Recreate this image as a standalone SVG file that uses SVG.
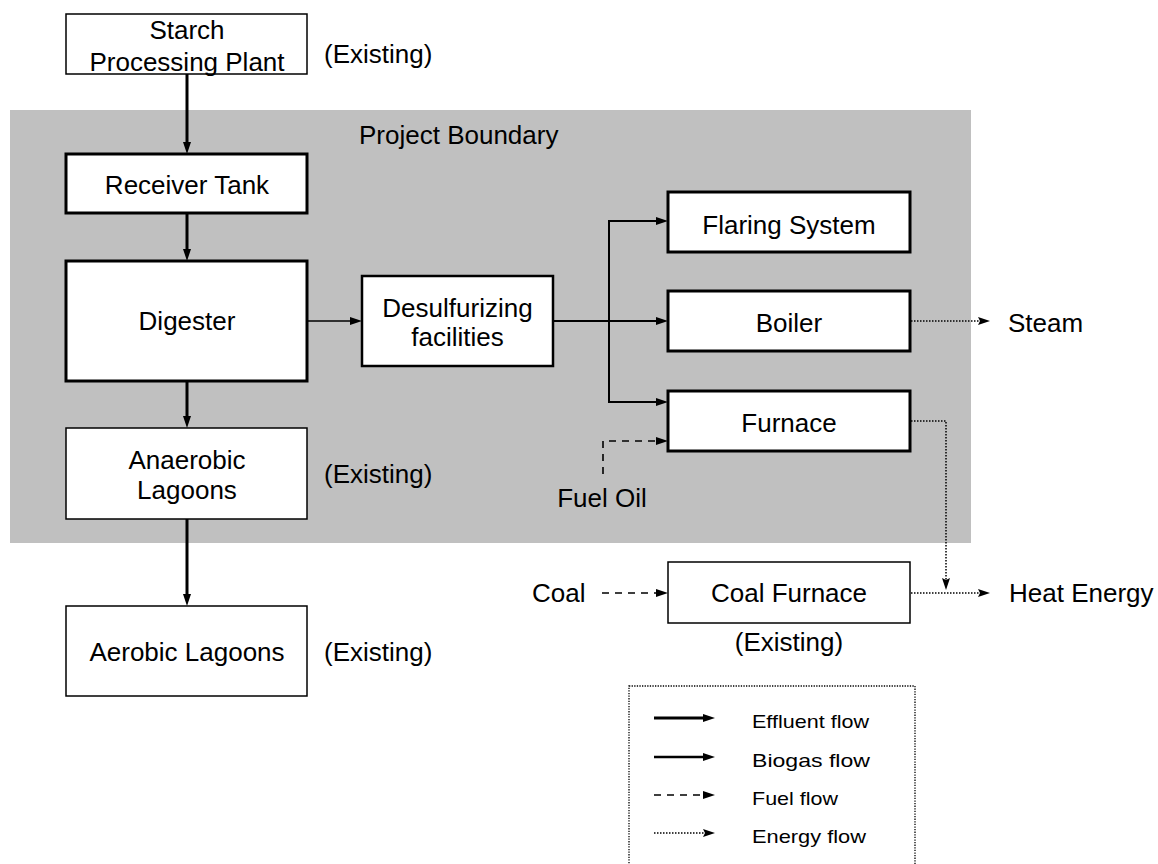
<svg xmlns="http://www.w3.org/2000/svg" width="1158" height="864" viewBox="0 0 1158 864">
<style>
text{font-family:"Liberation Sans",Arial,sans-serif;font-size:26px;fill:#000}
.c{text-anchor:middle}
.lg{font-size:19px}
.box{fill:#fff;stroke:#000}
.thin{stroke-width:1.5}
.thick{stroke-width:3}
.med{stroke-width:2.5}
.eff{fill:none;stroke:#000;stroke-width:3;marker-end:url(#ah)}
.bio{fill:none;stroke:#000;stroke-width:2;marker-end:url(#ah)}
.bio1{fill:none;stroke:#000;stroke-width:1.5;marker-end:url(#ah)}
.fuel{fill:none;stroke:#000;stroke-width:1.6;stroke-dasharray:7 6;marker-end:url(#ah)}
.en{fill:none;stroke:#000;stroke-width:1.5;stroke-dasharray:1.5 1.5;marker-end:url(#ah2)}
</style>
<defs>
<marker id="ah" markerUnits="userSpaceOnUse" markerWidth="12" markerHeight="8" refX="2" refY="4" orient="auto" overflow="visible">
<path d="M0,0 L12,4 L0,8 z" fill="#000"/>
</marker>
<marker id="ah2" markerUnits="userSpaceOnUse" markerWidth="12" markerHeight="8" refX="2" refY="4" orient="auto" overflow="visible">
<path d="M0,0 L12,4 L0,8 L2,4 z" fill="#000"/>
</marker>
</defs>

<rect id="project-boundary" x="10" y="110" width="961" height="433" fill="#c0c0c0"/>
<text x="359" y="144">Project Boundary</text>

<g id="connectors">
<path class="eff" d="M187,74 V144"/>
<path class="eff" d="M187,213 V251"/>
<path class="eff" d="M187,381 V418"/>
<path class="eff" d="M187,519 V596"/>
<path class="bio1" d="M307,321 H352"/>
<path class="bio" d="M553,321 H658"/>
<path class="bio" d="M609,321 V221 H658"/>
<path class="bio" d="M609,321 V402 H658"/>
<path class="fuel" d="M603,474 V441 H658"/>
<path class="fuel" d="M602,593 H658"/>
<path class="en" d="M911,321 H980"/>
<path class="en" d="M911,421 H946 V580"/>
<path class="en" d="M911,593 H980"/>
</g>

<g id="starch">
<rect class="box thin" x="66" y="14" width="241" height="60"/>
<text class="c" x="187" y="39">Starch</text>
<text class="c" x="187" y="71">Processing Plant</text>
</g>
<text x="324" y="63">(Existing)</text>

<g id="receiver">
<rect class="box thick" x="66" y="154" width="241" height="59"/>
<text class="c" x="187" y="194">Receiver Tank</text>
</g>

<g id="digester">
<rect class="box thick" x="66" y="261" width="241" height="120"/>
<text class="c" x="187" y="330">Digester</text>
</g>

<g id="anaerobic">
<rect class="box thin" x="66" y="428" width="241" height="91"/>
<text class="c" x="187" y="469">Anaerobic</text>
<text class="c" x="187" y="499">Lagoons</text>
</g>
<text x="324" y="483">(Existing)</text>

<g id="aerobic">
<rect class="box thin" x="66" y="606" width="241" height="90"/>
<text class="c" x="187" y="661">Aerobic Lagoons</text>
</g>
<text x="324" y="661">(Existing)</text>

<g id="desulf">
<rect class="box med" x="362" y="276" width="191" height="90"/>
<text class="c" x="457.5" y="317">Desulfurizing</text>
<text class="c" x="457.5" y="346">facilities</text>
</g>

<g id="flaring">
<rect class="box thick" x="668" y="192" width="242" height="60"/>
<text class="c" x="789" y="234">Flaring System</text>
</g>

<g id="boiler">
<rect class="box thick" x="668" y="291" width="242" height="60"/>
<text class="c" x="789" y="332">Boiler</text>
</g>

<g id="furnace">
<rect class="box thick" x="668" y="391" width="242" height="60"/>
<text class="c" x="789" y="432">Furnace</text>
</g>

<g id="fuel-oil"><text class="c" x="602" y="507">Fuel Oil</text></g>
<g id="coal"><text x="532" y="602">Coal</text></g>

<g id="coal-furnace">
<rect class="box thin" x="668" y="562" width="242" height="61"/>
<text class="c" x="789" y="602">Coal Furnace</text>
</g>
<text class="c" x="789" y="651">(Existing)</text>

<g id="steam"><text x="1008" y="332">Steam</text></g>
<g id="heat"><text x="1009" y="602">Heat Energy</text></g>

<g id="legend">
<rect x="629" y="686" width="286" height="190" fill="none" stroke="#000" stroke-width="1.3" stroke-dasharray="1.3 1.3"/>
<path class="eff" d="M654,718 H705"/>
<path class="bio" d="M654,757 H705" style="stroke-width:2.3"/>
<path class="fuel" d="M654,795 H705"/>
<path class="en" d="M654,833 H705"/>
<text class="lg" x="752" y="728" textLength="117" lengthAdjust="spacingAndGlyphs">Effluent flow</text>
<text class="lg" x="752" y="767" textLength="118" lengthAdjust="spacingAndGlyphs">Biogas flow</text>
<text class="lg" x="752" y="805" textLength="86" lengthAdjust="spacingAndGlyphs">Fuel flow</text>
<text class="lg" x="752" y="843" textLength="114" lengthAdjust="spacingAndGlyphs">Energy flow</text>
</g>
</svg>
